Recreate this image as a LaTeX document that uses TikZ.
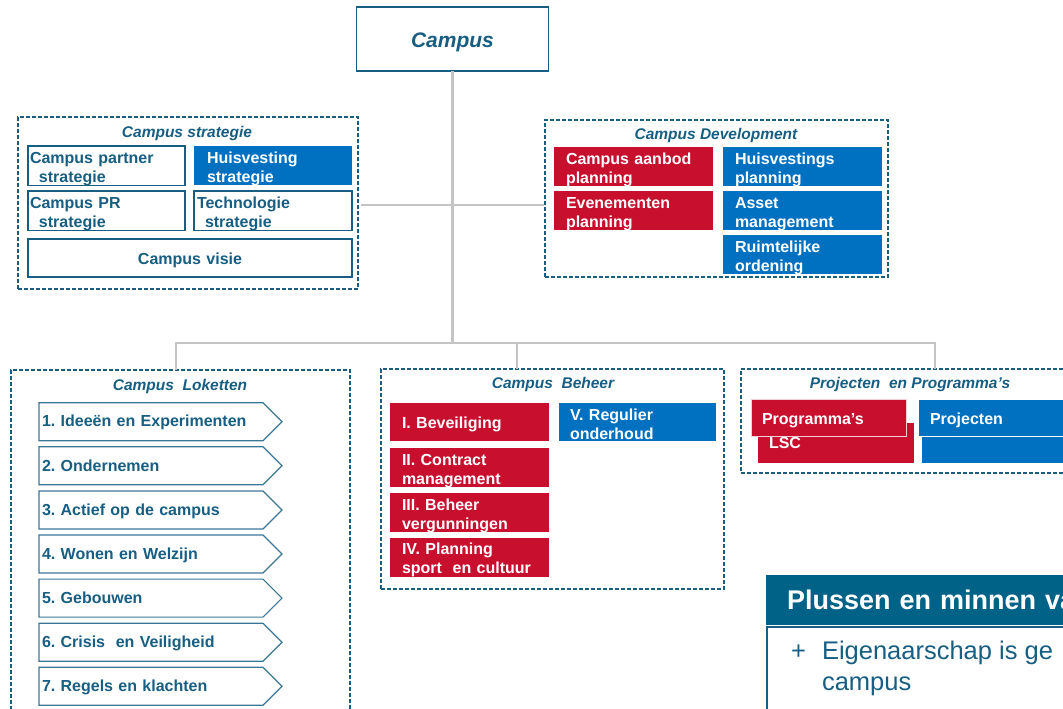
\documentclass[tikz,border=0pt]{standalone}
\usepackage{fontspec}
\setmainfont{Liberation Sans}
\usetikzlibrary{calc}
\definecolor{cteal}{RGB}{23,94,130}
\definecolor{cred}{RGB}{200,16,46}
\definecolor{cblue}{RGB}{0,112,192}
\definecolor{cgray}{RGB}{196,196,196}
\definecolor{chead}{RGB}{0,98,134}
\frenchspacing
\begin{document}
\begin{tikzpicture}[x=1pt,y=-1pt,
  every node/.style={inner sep=0pt, outer sep=0pt},
  conn/.style={draw=cgray, line width=2.4pt, line join=miter},
  group/.style={draw=cteal, dash pattern=on 4pt off 2pt, line width=1.3pt, anchor=north west},
  gtitle/.style={text=cteal, font=\bfseries\itshape\fontsize{15.5}{18}\selectfont},
  cellbase/.style={anchor=north west, minimum height=38pt, align=left,
               font=\bfseries\fontsize{16}{19}\selectfont},
  cell/.style={cellbase, execute at begin node={\rule{0pt}{17pt}}},
  wcell/.style={cell, draw=cteal, fill=white, text=cteal, line width=1.2pt, inner xsep=2pt},
  rcell/.style={cell, fill=cred, text=white, inner xsep=12pt, text width=135pt},
  bcell/.style={cell, fill=cblue, text=white, inner xsep=12pt, text width=135pt},
  loket/.style={cellbase, text=cteal, inner xsep=3pt, text width=218pt,
                text height=14.5pt, text depth=4pt},
  loketline/.style={draw=cteal!85, line width=1.2pt, line join=miter},
  ptext/.style={text=cteal, font=\fontsize{25.5}{31}\selectfont, anchor=base west}]
\useasboundingbox (0,0) rectangle (1063,709);
\clip (0,0) rectangle (1063,709);

% root
\node[draw=cteal, line width=1.2pt, minimum width=192pt, minimum height=64pt, text height=21pt,
      text=cteal, font=\bfseries\itshape\fontsize{21}{24}\selectfont] (campus) at (452.5,39) {Campus};

% group frames
\node[group, minimum width=340pt, minimum height=172pt] (gstrat) at (18,117) {};
\node[group, minimum width=343pt, minimum height=157pt] (gdev) at (545,120) {};
\node[group, minimum width=339pt, minimum height=360pt] (glok) at (11,370) {};
\node[group, minimum width=343pt, minimum height=220pt] (gbeh) at (381,369) {};
\node[group, minimum width=340pt, minimum height=104pt] (gproj) at (741,369) {};

% connectors
\coordinate (hubA) at (452.5,205);
\coordinate (hubB) at (452.5,343);
\coordinate (dL) at (176,343);
\coordinate (dM) at (517,343);
\coordinate (dR) at (935,343);
\draw[conn] (campus.south) -- (hubB);
\draw[conn] ($(gstrat.east |- hubA)+(3,0)$) -- ($(gdev.west |- hubA)+(-1,0)$);
\draw[conn] (dL |- glok.north) -- (dL) -- (dR) -- (dR |- gproj.north);
\draw[conn] (dM) -- (dM |- gbeh.north);

% group titles
\node[gtitle] (tstrat) at (187,133) {Campus strategie};
\node[gtitle] (tdev) at (716,135) {Campus Development};
\node[gtitle] (tlok) at (180,386) {Campus~ Loketten};
\node[gtitle] (tbeh) at (553,384) {Campus~ Beheer};
\node[gtitle] (tproj) at (910,384) {Projecten~ en Programma’s};

% Campus strategie
\node[wcell, text width=153pt] (partner) at (28,146) {Campus partner\\\hspace*{9pt}strategie};
\node[bcell, inner xsep=13pt, text width=132pt] (huis) at (194,146) {Huisvesting\\strategie};
\node[wcell, text width=153pt] (pr) at (28,191) {Campus PR\\\hspace*{9pt}strategie};
\node[wcell, inner xsep=3pt, text width=152pt] (tech) at (194,191) {Technologie\\\hspace*{8pt}strategie};
\node[wcell, align=center, text width=320pt] (visie) at (28,239) {Campus visie};

% Campus Development
\node[rcell] (aanbod) at (554,147) {Campus aanbod\\planning};
\node[rcell] (even) at (554,191) {Evenementen\\planning};
\node[bcell] (huisp) at (723,147) {Huisvestings\\planning};
\node[bcell] (asset) at (723,191) {Asset\\management};
\node[bcell] (ruimte) at (723,235) {Ruimtelijke\\ordening};

% Campus Loketten
\foreach \i/\t in {1/1. Ideeën en Experimenten, 2/2. Ondernemen, 3/3. Actief op de campus,
                   4/4. Wonen en Welzijn, 5/5. Gebouwen, 6/6. Crisis~ en Veiligheid,
                   7/7. Regels en klachten} {
  \node[loket] (lk\i) at (39,{402.7+44.1*(\i-1)}) {\t};
  \draw[loketline] (lk\i.north west) -- (lk\i.north east) -- ($(lk\i.east)+(19,0)$)
                   -- (lk\i.south east) -- (lk\i.south west) -- cycle;
}

% Campus Beheer
\node[rcell] (bev) at (390,403) {I. Beveiliging};
\node[rcell] (contract) at (390,448) {II. Contract\\management};
\node[rcell] (verg) at (390,493) {III. Beheer\\vergunningen};
\node[rcell, minimum height=39pt] (sport) at (390,537.5) {IV. Planning\\sport~ en cultuur};
\node[bcell, text width=135pt, inner xsep=11pt] (onderhoud) at (559,403) {V. Regulier\\onderhoud};

% Projecten en Programma's
\node[cellbase, fill=cred, text=white, minimum height=40pt, inner xsep=11pt, text width=134pt,
      text height=14pt, text depth=4pt] (lsc) at (758,423) {LSC};
\node[rcell, draw=white!80!cred, line width=0.8pt, minimum height=37pt, inner xsep=11pt,
      text width=133pt] (prog) at (751,399) {Programma’s};
\node[bcell, minimum height=26pt, text width=176pt] (projb) at (922,437) {};
\node[bcell, minimum height=37pt, text width=176pt, draw=white, line width=0.8pt] (proj) at (918,399) {Projecten};

% Plussen en minnen panel
\node[anchor=north west, fill=chead, minimum height=50pt, text=white, align=left,
      text width=300pt, inner xsep=21pt, font=\bfseries\fontsize{27}{30}\selectfont] (head) at (766,575) {Plussen en minnen va};
\node[anchor=north west, draw=cteal, line width=1.2pt, minimum width=340pt, minimum height=100pt] (body) at (767,627) {};
\node[ptext] (plus) at (791,659) {+};
\node[ptext] (line1) at (822,659) {Eigenaarschap is ge};
\node[ptext] (line2) at (822,690) {campus};
\end{tikzpicture}
\end{document}
